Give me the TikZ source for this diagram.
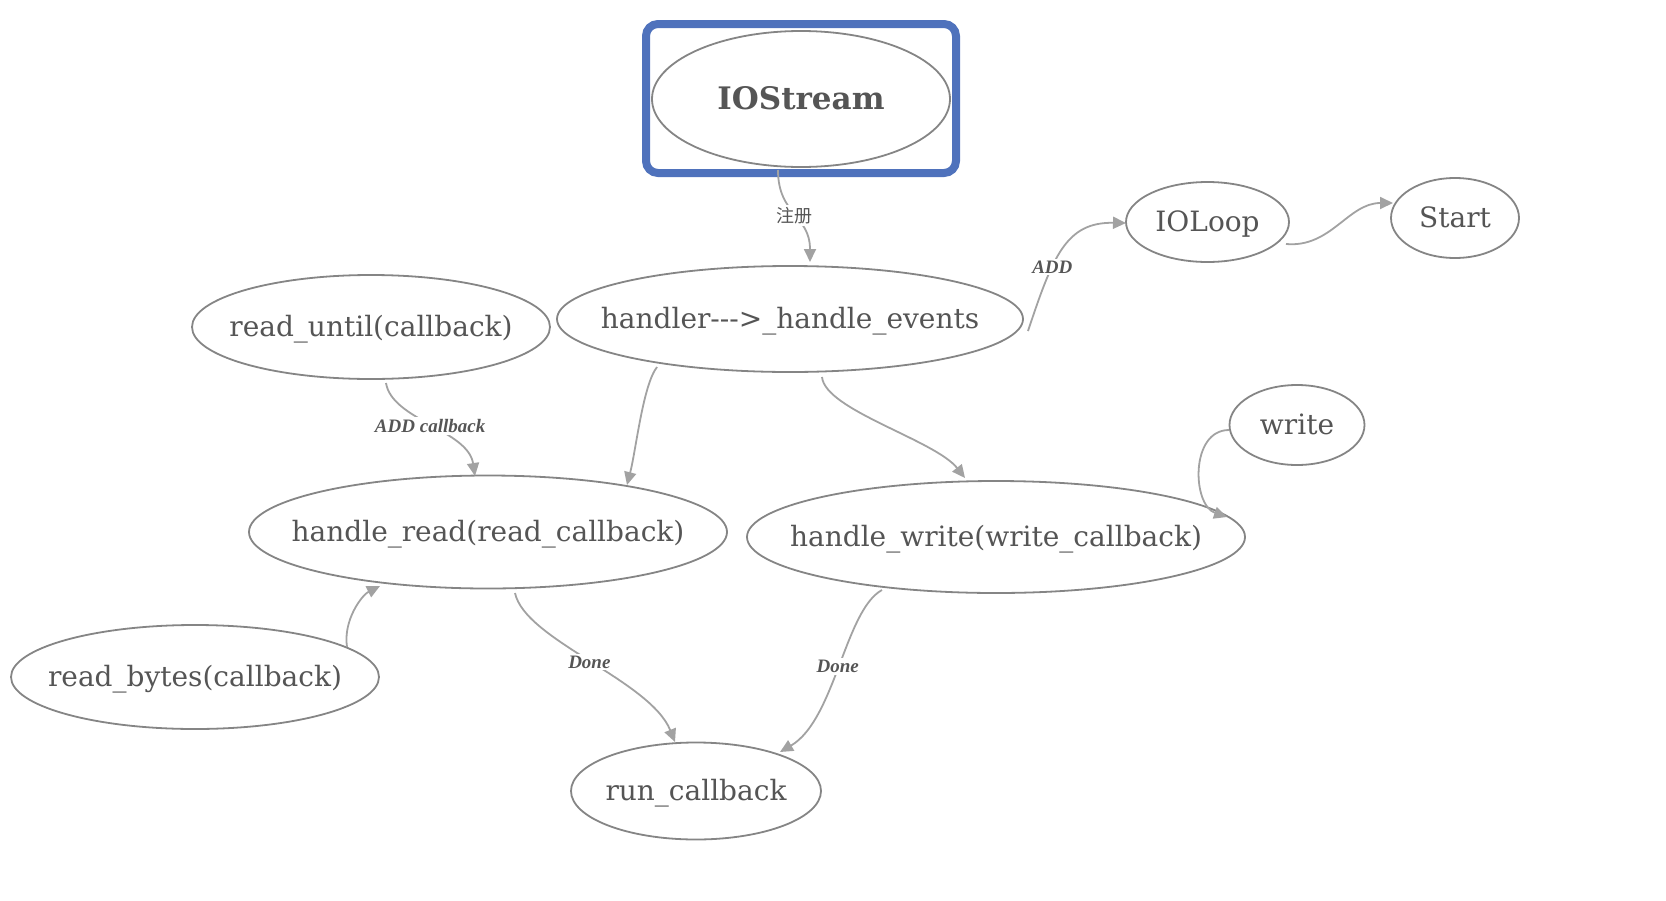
\documentclass[tikz,border=0pt]{standalone}
\usepackage{fontspec}
\setmainfont{DejaVu Serif}
\newfontfamily\lblfont{Liberation Serif}
\newfontfamily\cjk{Noto Sans CJK SC}
\usetikzlibrary{shapes.geometric,arrows.meta,calc}
\definecolor{txtgray}{HTML}{555555}
\definecolor{bordergray}{HTML}{858585}
\definecolor{edgegray}{HTML}{A2A2A2}
\definecolor{frameblue}{HTML}{4F72BC}
\tikzset{
  st/.style={ellipse, draw=bordergray, line width=1.8pt, inner sep=0pt, fill=white,
    text=txtgray, font=\fontsize{28}{30}\selectfont, text depth=2pt},
  edge/.style={draw=edgegray, line width=1.8pt,
    -{Triangle[length=13pt,width=12pt]}, color=edgegray},
  lbl/.style={fill=white, text=txtgray, inner sep=2pt,
    font=\lblfont\bfseries\itshape\fontsize{19}{21}\selectfont},
  cjklbl/.style={fill=white, text=txtgray, inner sep=2pt,
    font=\cjk\fontsize{18}{20}\selectfont},
}
\begin{document}
\begin{tikzpicture}[x=1pt,y=-1pt]
\useasboundingbox (0,0) rectangle (1666,900);
% frame and nodes
\node[draw=frameblue, line width=8pt, rounded corners=12pt, rectangle,
  minimum width=310pt, minimum height=149pt] (box) at (801,98.5) {};
\node[st, minimum width=298pt, minimum height=136pt,
  font=\bfseries\fontsize{31}{33}\selectfont] (iostream) at (801,99) {\makebox[0pt]{IOStream}};
\node[st, minimum width=466pt, minimum height=106pt] (handler) at (790,319) {\makebox[0pt]{handler-{}-{}-{}>\_handle\_events}};
\node[st, minimum width=163pt, minimum height=80pt] (ioloop) at (1207.5,222) {\makebox[0pt]{IOLoop}};
\node[st, minimum width=128pt, minimum height=80pt] (start) at (1455,218) {\makebox[0pt]{Start}};
\node[st, minimum width=358pt, minimum height=104pt] (readuntil) at (371,327) {\makebox[0pt]{read\_until(callback)}};
\node[st, minimum width=478pt, minimum height=113pt] (handleread) at (488,532) {\makebox[0pt]{handle\_read(read\_callback)}};
\node[st, minimum width=498pt, minimum height=112pt] (handlewrite) at (996,537) {\makebox[0pt]{handle\_write(write\_callback)}};
\node[st, minimum width=135pt, minimum height=80pt] (write) at (1297,425) {\makebox[0pt]{write}};
\node[st, minimum width=368pt, minimum height=104pt] (readbytes) at (195,677) {\makebox[0pt]{read\_bytes(callback)}};
\node[st, minimum width=250pt, minimum height=97pt] (runcallback) at (696,791) {\makebox[0pt]{run\_callback}};
% connectors
\draw[edge] ($(iostream)+(-23,71)$) .. controls +(0,45) and +(0,-47) .. node[cjklbl] {注册} ($(handler)+(20,-57)$);
\draw[edge] ($(handler)+(238,12)$) .. controls +(25,-75) and +(-60,-1) .. node[lbl, pos=0.35] {ADD} ($(ioloop)+(-81.5,1)$);
\draw[edge] ($(ioloop)+(78.5,22)$) .. controls +(45,4) and +(-45,0) .. ($(start)+(-62,-15)$);
\draw[edge] ($(readuntil)+(15,56)$) .. controls +(6,37) and +(-7,-46) .. node[lbl] {ADD callback} ($(handleread)+(-13,-56)$);
\draw[edge] ($(handler)+(-133,48)$) .. controls +(-14,18) and +(9,-35) .. ($(handleread)+(139,-47)$);
\draw[edge] ($(handler)+(32,58)$) .. controls +(3,33) and +(-30,-38) .. ($(handlewrite)+(-31,-59)$);
\draw[edge] ($(write)+(-68,5)$) .. controls +(-39,0) and +(-35,-12) .. ($(handlewrite)+(231,-20)$);
\draw[edge] ($(readbytes)+(152,-30)$) .. controls +(-4,-27) and +(-18,9) .. ($(handleread)+(-108,54)$);
\draw[edge] ($(handleread)+(27,61)$) .. controls +(10,47) and +(-25,-62) .. node[lbl] {Done} ($(runcallback)+(-21,-49)$);
\draw[edge] ($(handlewrite)+(-114,53)$) .. controls +(-37,20) and +(55,-32) .. node[lbl] {Done} ($(runcallback)+(84,-39)$);
\end{tikzpicture}
\end{document}
